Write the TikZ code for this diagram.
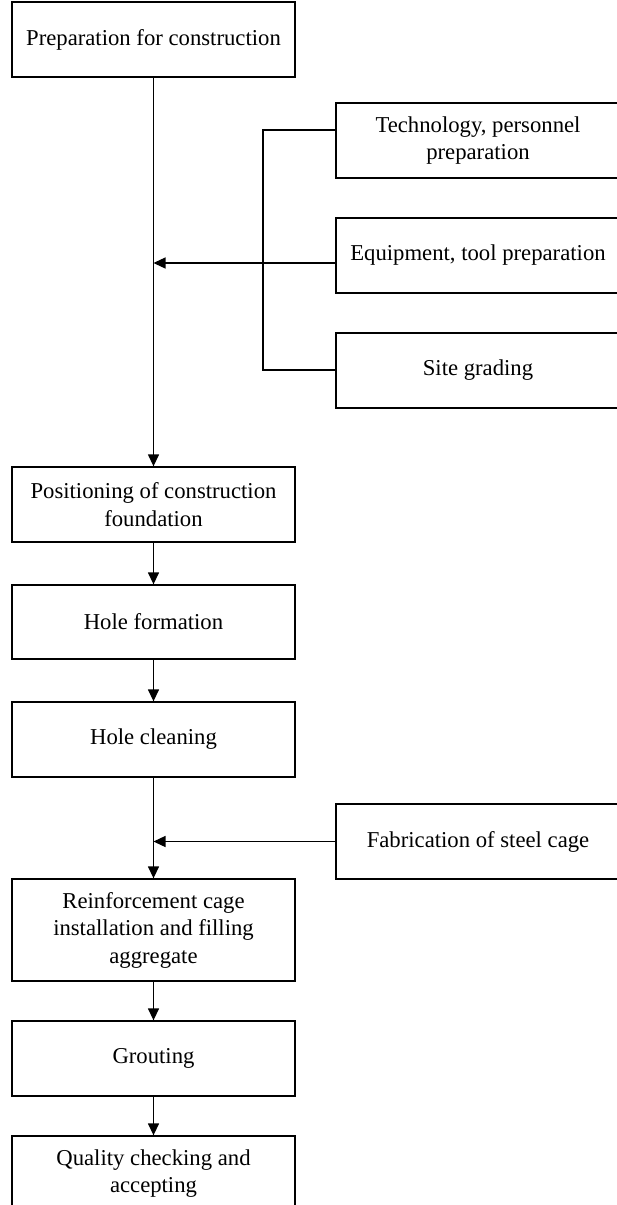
\documentclass[tikz,border=0pt]{standalone}
\usepackage{fontspec}
\setmainfont{Liberation Serif}
\usetikzlibrary{positioning, calc, arrows.meta}

\tikzset{
  stepbox/.style={draw, line width=1.3pt, minimum width=283pt, minimum height=75pt, align=center, inner sep=0pt},
  sidebox/.style={stepbox, minimum width=284pt},
  link/.style={line width=1.3pt},
  flow/.style={line width=1.3pt, -{Triangle[length=12pt,width=11pt]}},
}

\begin{document}
\begin{tikzpicture}[x=1pt, y=-1pt, font=\fontsize{22.7}{27.5}\selectfont]
                \useasboundingbox (0,0) rectangle (616,1205);
                % main column
                \node[stepbox] (prep) at (153.5,39.5) {Preparation for construction};
                \node[stepbox] (posit) at (153.5,504.5) {Positioning of construction\\foundation};
                \node[stepbox, minimum height=74pt] (holef) at (153.5,622) {Hole formation};
                \node[stepbox] (holec) at (153.5,739.5) {Hole cleaning};
                \node[stepbox, minimum height=102pt] (reinf) at (153.5,930) {Reinforcement cage\\installation and filling\\aggregate};
                \node[stepbox] (grout) at (153.5,1058.5) {Grouting};
                \node[stepbox] (qual) at (153.5,1173.5) {Quality checking and\\accepting};
                % side column
                \node[sidebox] (tech) at (478,140.5) {Technology, personnel\\preparation};
                \node[sidebox] (equip) at (478,255.5) {Equipment, tool preparation};
                \node[sidebox] (site) at (478,370.5) {Site grading};
                \node[sidebox] (fabr) at (478,841.5) {Fabrication of steel cage};
                % bracket
                \coordinate (t1) at (263,130);
                \coordinate (t3) at (263,370);
                \coordinate (brk) at (263,263);
                \coordinate (j1) at (prep.south |- brk);
                \draw[link] (tech.west |- t1) -- (t1) -- (t3) -- (site.west |- t3);
                \draw[flow] (equip.west |- brk) -- (j1);
                \draw[flow] (fabr.west) -- (fabr.west -| holec.south);
                % chain
                \draw[flow] (prep) -- (posit);
                \draw[flow] (posit) -- (holef);
                \draw[flow] (holef) -- (holec);
                \draw[flow] (holec) -- (reinf);
                \draw[flow] (reinf) -- (grout);
                \draw[flow] (grout) -- (qual);
            \end{tikzpicture}
\end{document}
